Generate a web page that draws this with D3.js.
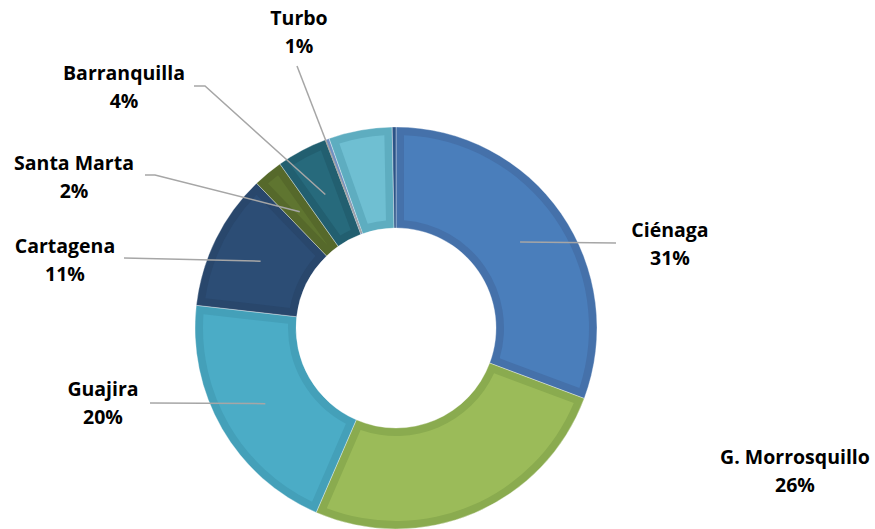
<!DOCTYPE html>
<html>
<head>
<meta charset="utf-8">
<script src="https://cdn.jsdelivr.net/npm/d3@7"></script>
<style>
  html, body { margin: 0; padding: 0; background: #fff; }
  svg text { font-family: "Open Sans", "DejaVu Sans", sans-serif; font-weight: 700; }
</style>
</head>
<body>
<div id="grafico"></div>
<script>
// categorias (as duas últimas não têm rótulo no gráfico)
const categorias = ['Ciénaga', 'G. Morrosquillo', 'Guajira', 'Cartagena', 'Santa Marta', 'Barranquilla', 'Turbo', '', ''];
// participação de cada fatia (%)
const valores = [30.7, 25.8, 20.3, 11.0, 2.4, 4.1, 0.3, 5.1, 0.3];
// porcentagens mostradas nos rótulos
const rotulos = ['31%', '26%', '20%', '11%', '2%', '4%', '1%', '', ''];

const cores = ['#4a7ebb', '#9bbb59', '#4bacc6', '#2c4d75', '#5f7530', '#276a7c', '#7f9fd0', '#6fbfd2', '#2f5b93'];
const bordas = ['#4571aa', '#8aab4f', '#44a0b9', '#29476c', '#56692b', '#225f70', '#7090c2', '#5eadc0', '#2b5387'];

// posição dos rótulos (centro do texto, linha de base) e início da linha guia
const layoutRotulos = [
  { x: 670, y: 237, linha: [[616, 243]] },
  { x: 795, y: 464, linha: null },
  { x: 103, y: 396, linha: [[150, 403]] },
  { x: 65, y: 253, linha: [[124, 258]] },
  { x: 74, y: 170, linha: [[145, 175], [155, 175]] },
  { x: 124, y: 80, linha: [[194, 86], [205, 86]] },
  { x: 299, y: 25, linha: [[297, 66]], raio: 101 },
  null, null
];

const largura = 875, altura = 529;
const cx = 396, cy = 328;
const raioExterno = 201, raioInterno = 100, bisel = 8;

const svg = d3.select('#grafico')
  .append('svg')
  .attr('width', largura)
  .attr('height', altura);

const g = svg.append('g').attr('transform', `translate(${cx}, ${cy})`);

const pizza = d3.pie().sort(null).value(d => d);
const arcos = pizza(valores);

const arco = d3.arc().innerRadius(raioInterno).outerRadius(raioExterno);
const arcoInterno = d3.arc()
  .innerRadius(raioInterno + bisel)
  .outerRadius(raioExterno - bisel)
  .padRadius(raioExterno)
  .padAngle(2 * bisel / raioExterno);

// fatias com borda mais escura (efeito bisel)
g.selectAll('path.borda')
  .data(arcos)
  .enter().append('path')
  .attr('class', 'borda')
  .attr('d', arco)
  .attr('fill', (d, i) => bordas[i])
  .attr('stroke', '#ffffff')
  .attr('stroke-opacity', 0.5)
  .attr('stroke-width', 0.7);

g.selectAll('path.miolo')
  .data(arcos)
  .enter().append('path')
  .attr('class', 'miolo')
  .attr('d', arcoInterno)
  .attr('fill', (d, i) => cores[i]);

// linhas guia
const linha = d3.line();
arcos.forEach((d, i) => {
  const lay = layoutRotulos[i];
  if (!lay || !lay.linha) return;
  const r = lay.raio || 151;
  const a = (d.startAngle + d.endAngle) / 2;
  const fim = [cx + r * Math.sin(a), cy - r * Math.cos(a)];
  svg.append('path')
    .attr('d', linha(lay.linha.concat([fim])))
    .attr('fill', 'none')
    .attr('stroke', '#a6a6a6')
    .attr('stroke-width', 1.5);
});

// rótulos
categorias.forEach((nome, i) => {
  const lay = layoutRotulos[i];
  if (!lay || !nome) return;
  const t = svg.append('text')
    .attr('text-anchor', 'middle')
    .attr('fill', '#000')
    .style('font-size', '19.5px');
  t.append('tspan').attr('x', lay.x).attr('y', lay.y).text(nome);
  t.append('tspan').attr('x', lay.x).attr('y', lay.y + 28).text(rotulos[i]);
});
</script>
</body>
</html>
